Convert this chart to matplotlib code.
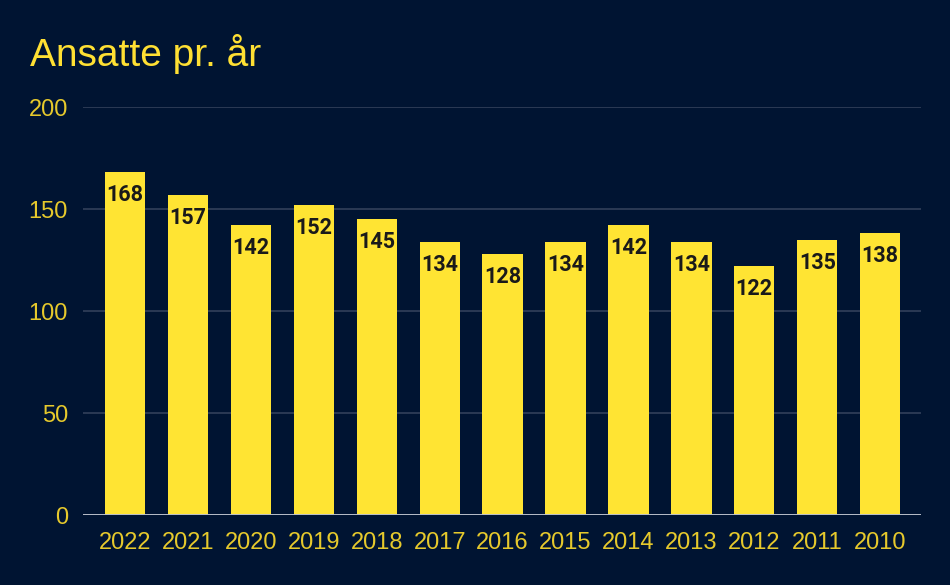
import matplotlib
matplotlib.use("Agg")
import matplotlib.pyplot as plt

years = ["2022", "2021", "2020", "2019", "2018", "2017", "2016",
         "2015", "2014", "2013", "2012", "2011", "2010"]
employees = [168, 157, 142, 152, 145, 134, 128, 134, 142, 134, 122, 135, 138]
yticks = [0, 50, 100, 150, 200]

BG = "#001432"
BAR = "#FFE433"
TITLE = "#FFE033"
TICK = "#E6C92C"
GRID = "#36445E"

plt.rcParams["font.family"] = ["Liberation Sans", "DejaVu Sans"]

fig = plt.figure(figsize=(9.5, 5.85), dpi=100, facecolor=BG)
ax = fig.add_axes([83/950, 1-515/585, (921-83)/950, (515-107)/585])
ax.set_facecolor(BG)

x = list(range(len(years)))
bars = ax.bar(x, employees, width=0.64, color=BAR, zorder=3)

for xi, v in zip(x, employees):
    ax.annotate(str(v), (xi, v), xytext=(0, -16.5), textcoords="offset points",
                ha="center", va="center", fontsize=15.5, fontweight="bold",
                color="#1a1a1a", family=["Roboto", "DejaVu Sans"], zorder=4)

ax.set_xlim(-0.67, len(years) - 1 + 0.65)
ax.set_ylim(0, 200)
ax.set_yticks(yticks)
ax.set_yticklabels([str(t) for t in yticks])
ax.set_xticks(x)
ax.set_xticklabels(years)
ax.tick_params(axis="both", length=0, colors=TICK, labelsize=17)
ax.tick_params(axis="y", pad=10.8)
ax.tick_params(axis="x", pad=12)

for t in yticks[1:]:
    ax.axhline(t, color=GRID, linewidth=1.1, zorder=1)
ax.axhline(0, color="#B9BECA", linewidth=1.4, zorder=5)

for s in ax.spines.values():
    s.set_visible(False)

fig.text(30/950, 1-66/585, "Ansatte pr. år", color=TITLE, fontsize=28,
         ha="left", va="baseline")

fig.savefig("out.png", dpi=100, facecolor=BG)
